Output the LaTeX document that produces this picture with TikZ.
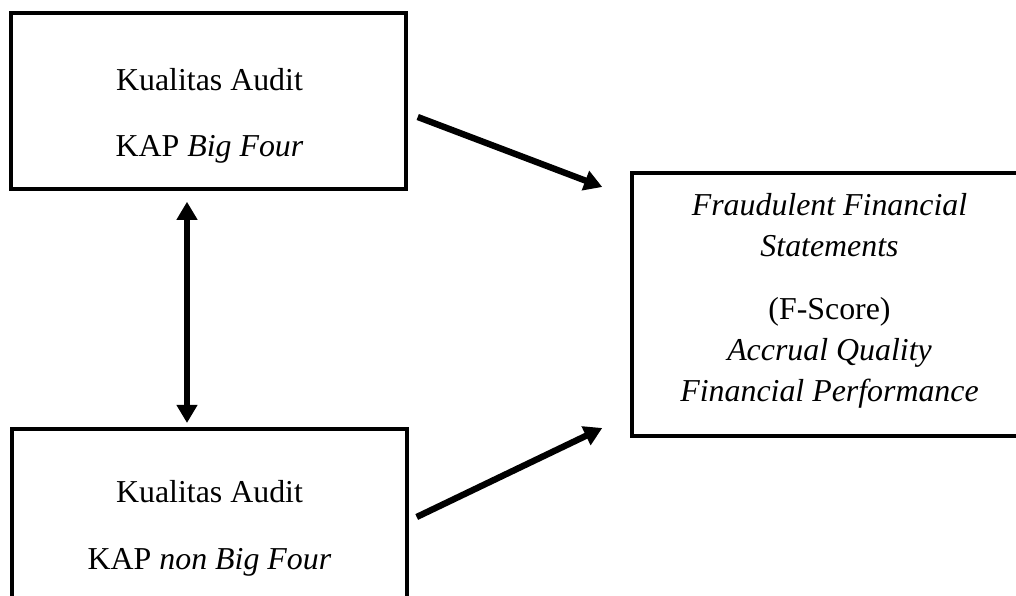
\documentclass[tikz,border=0pt]{standalone}
\usepackage{fontspec}
\setmainfont{Liberation Serif}
\usetikzlibrary{arrows.meta, calc}

\begin{document}
\begin{tikzpicture}[x=0.3765pt, y=-0.3765pt,
		kotak/.style={draw, line width=1.4pt, minimum width=148.5pt, inner sep=0pt, outer sep=0pt},
		isi/.style={align=center, inner sep=0pt, anchor=north},
		panah/.style={line width=2.4pt, -{Triangle[length=6.8pt, width=7.5pt]}},
		panahdua/.style={line width=2.4pt, {Triangle[length=6.8pt, width=7.5pt]}-{Triangle[length=6.8pt, width=7.5pt]}}]
				% Размер рисунка
				\useasboundingbox (0,0) rectangle (1016,596);
				\clip (0,0) rectangle (1016,596);
				
				% Прямоугольники
				\node[kotak, minimum height=66.1pt] (kapbig) at (208.5,101) {};
				\node[kotak, minimum height=65.5pt] (kapnon) at (209.5,516) {};
				\node[kotak, minimum height=99pt] (fraud) at (829.5,304.5) {};
				
				% Подписи
				\node[isi, font=\fontsize{12pt}{24.8pt}\selectfont] (kapbigteks) at (209.5,68.2)
					{Kualitas Audit\\KAP \textit{Big Four}};
				\node[isi, font=\fontsize{12pt}{25pt}\selectfont] (kapnonteks) at (209.5,480)
					{Kualitas Audit\\KAP \textit{non Big Four}};
				\node[isi, font=\fontsize{12pt}{15.4pt}\selectfont] (fraudteks) at (829.5,193)
					{\textit{Fraudulent Financial}\\\textit{Statements}\\[8.4pt]
					(F-Score)\\\textit{Accrual Quality}\\\textit{Financial Performance}};
				
				% Стрелки
				\draw[panahdua] ($(kapbig.south)+(-21.5,13)$) -- ($(kapnon.north)+(-22.5,-6)$);
				\draw[panah] ($(kapbig.east)+(12,16)$) -- ($(fraud.west)+(-30,-117.5)$);
				\draw[panah] ($(kapnon.east)+(10,1)$) -- ($(fraud.west)+(-30,123.5)$);
			\end{tikzpicture}
\end{document}
